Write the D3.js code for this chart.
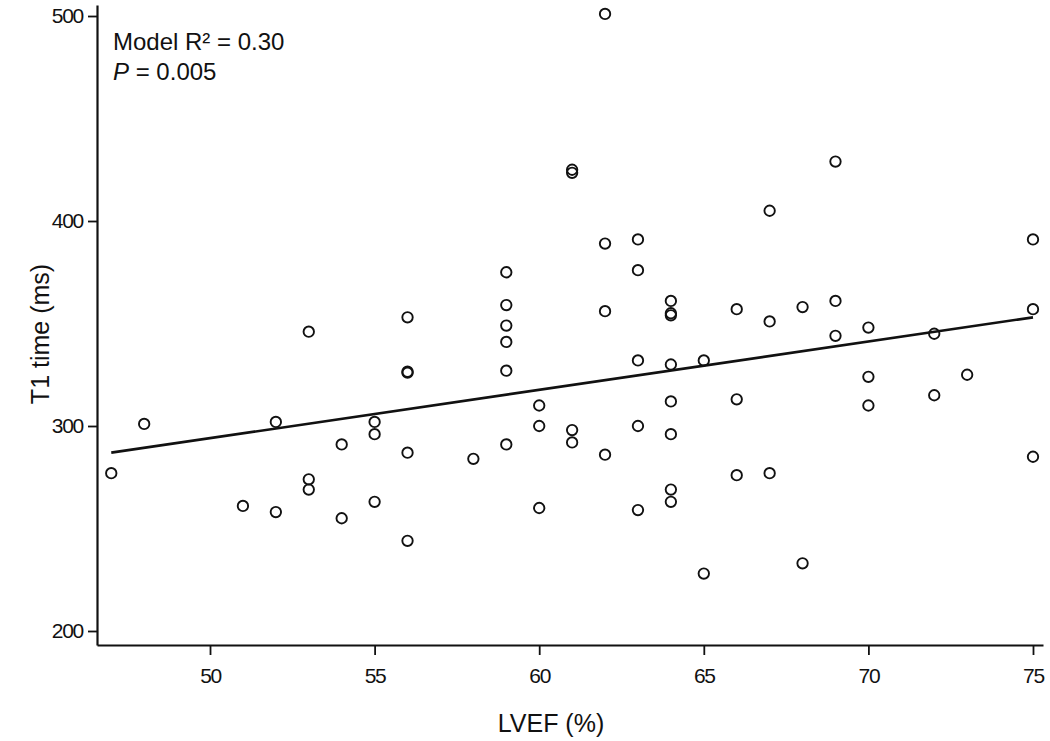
<!DOCTYPE html>
<html>
<head>
<meta charset="utf-8">
<script src="https://cdn.jsdelivr.net/npm/d3@7/dist/d3.min.js"></script>
<style>
  html, body { margin: 0; padding: 0; background: #fff; }
  svg { display: block; }
  text { font-family: "Liberation Sans", Arial, Helvetica, sans-serif; fill: #111; }
</style>
</head>
<body>
<svg id="chart" width="1050" height="741"></svg>
<script>
// LVEF (%) values
const lvef = [47, 48, 51, 52, 52, 53, 53, 53, 54, 54, 55, 55, 55,
  56, 56, 56, 56, 56, 58,
  59, 59, 59, 59, 59, 59,
  60, 60, 60, 61, 61, 61, 61,
  62, 62, 62, 62,
  63, 63, 63, 63, 63,
  64, 64, 64, 64, 64, 64, 64, 64,
  65, 65, 66, 66, 66, 67, 67, 67, 68, 68,
  69, 69, 69, 70, 70, 70, 72, 72, 73, 75, 75, 75];
// T1 time (ms) values
const t1 = [277, 301, 261, 302, 258, 346, 274, 269, 291, 255, 302, 296, 263,
  353, 326, 326.5, 287, 244, 284,
  375, 359, 349, 341, 327, 291,
  310, 300, 260, 425, 423.5, 298, 292,
  501, 389, 356, 286,
  391, 376, 332, 300, 259,
  361, 355, 354, 330, 312, 296, 269, 263,
  332, 228, 357, 313, 276, 405, 351, 277, 358, 233,
  429, 361, 344, 348, 324, 310, 345, 315, 325, 391, 357, 285];
// Fitted regression line endpoints
const fitX = [47, 75];
const fitY = [287, 353];
const xTicks = [50, 55, 60, 65, 70, 75];
const yTicks = [200, 300, 400, 500];
const annotation1 = "Model R\u00B2 = 0.30";
const annotation2 = ["P", " = 0.005"];
const xTitle = "LVEF (%)";
const yTitle = "T1 time (ms)";

const svg = d3.select("#chart");
const x = d3.scaleLinear().domain([46.567, 75.304]).range([97, 1043]);
const y = d3.scaleLinear().domain([193.17, 505.37]).range([645, 5]);

// axes
const xAxis = d3.axisBottom(x).tickValues(xTicks).tickSizeInner(10).tickSizeOuter(0).tickPadding(13);
const yAxis = d3.axisLeft(y).tickValues(yTicks).tickSizeInner(9).tickSizeOuter(0).tickPadding(5);

const gx = svg.append("g").attr("transform", "translate(0,645)").call(xAxis);
const gy = svg.append("g").attr("transform", "translate(97,0)").call(yAxis);
[gx, gy].forEach(g => {
  g.select(".domain").attr("stroke", "#111").attr("stroke-width", 2.2);
  g.selectAll(".tick line").attr("stroke", "#111").attr("stroke-width", 1.8);
  g.selectAll(".tick text")
    .style("font-family", "'Liberation Sans', Arial, sans-serif")
    .style("font-size", "21px").style("letter-spacing", "-1.3px").attr("fill", "#111");
});

// regression line
svg.append("line")
  .attr("x1", x(fitX[0])).attr("y1", y(fitY[0]))
  .attr("x2", x(fitX[1])).attr("y2", y(fitY[1]))
  .attr("stroke", "#111").attr("stroke-width", 2.6);

// points
const data = lvef.map((v, i) => ({ x: v, y: t1[i] }));
svg.append("g").selectAll("circle").data(data).join("circle")
  .attr("cx", d => x(d.x)).attr("cy", d => y(d.y)).attr("r", 5.2)
  .attr("fill", "none").attr("stroke", "#111").attr("stroke-width", 1.9);

// annotation
svg.append("text").attr("x", 113).attr("y", 50).style("font-size", "24px").text(annotation1);
const t2 = svg.append("text").attr("x", 113).attr("y", 80).style("font-size", "24px");
t2.append("tspan").style("font-style", "italic").text(annotation2[0]);
t2.append("tspan").text(annotation2[1]);

// axis titles
svg.append("text").attr("x", 551).attr("y", 732).attr("text-anchor", "middle")
  .style("font-size", "25px").text(xTitle);
svg.append("text").attr("transform", "translate(49,334) rotate(-90)").attr("text-anchor", "middle")
  .style("font-size", "25px").text(yTitle);
</script>
</body>
</html>
